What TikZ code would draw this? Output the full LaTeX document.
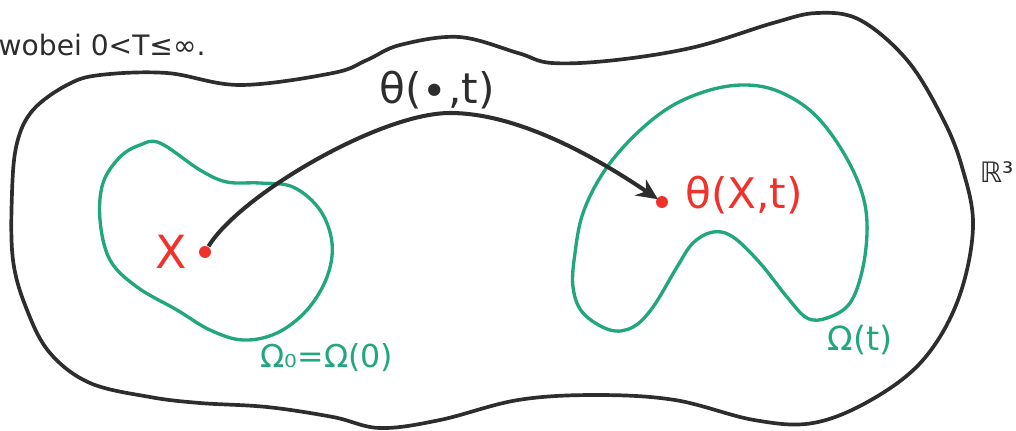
\documentclass[tikz,border=0pt]{standalone}
\usepackage{fontspec}
\setmainfont{DejaVu Sans}
\usepackage{tikz}
\usetikzlibrary{arrows.meta,positioning}

\definecolor{pengreen}{RGB}{34,166,126}
\definecolor{penred}{RGB}{240,50,44}
\definecolor{penblack}{RGB}{45,45,45}

\begin{document}
\begin{tikzpicture}[x=0.01cm, y=-0.01cm, >=Stealth]
        \tikzset{space/.style={draw=penblack, line width=1.05pt, line join=round},
                 region/.style={draw=pengreen, line width=0.95pt},
                 point/.style={circle, fill=penred, inner sep=0pt, minimum size=3.4pt},
                 flow/.style={-{Stealth[length=6pt,width=5.5pt]}, draw=penblack, line width=1.15pt, shorten >=-0.5pt},
                 lbl/.style={inner sep=0pt, font=\fontsize{12}{14}\selectfont}}
        \useasboundingbox (0,0) rectangle (1016,430);
        % the whole space
        \draw[space] plot[smooth cycle, tension=0.6] coordinates {(12,193) (17,143) (33,110) (67,85) (100,75) (167,73) (240,85) (333,73) (367,60) (400,45) (459,37) (518,53) (552,63) (616,60) (695,47) (773,23) (817,13) (860,20) (907,60) (942,117) (962,167) (973,227) (958,300) (923,360) (871,400) (813,423) (754,420) (675,400) (596,395) (518,400) (440,420) (380,428) (333,417) (267,407) (200,403) (150,397) (90,383) (50,353) (27,310) (13,260)};
        % reference body and current body
        \draw[region] plot[smooth cycle, tension=0.6] coordinates {(160,143) (200,170) (227,182) (260,183) (293,187) (320,210) (332,243) (327,277) (307,310) (277,333) (243,340) (210,330) (177,310) (137,287) (110,260) (100,220) (103,183) (120,157) (140,145)};
        \draw[region] plot[smooth cycle, tension=0.6] coordinates {(747,85) (780,92) (813,113) (840,147) (860,187) (867,223) (863,267) (850,303) (827,318) (807,318) (787,297) (760,263) (733,237) (713,232) (693,243) (677,267) (653,307) (633,327) (610,330) (583,313) (573,287) (575,253) (583,213) (603,173) (633,137) (670,107) (710,90)};
        \node[point] (x0) at (205,252) {};
        \node[point] (xt) at (662,202) {};
        \node[lbl, text=penred, font=\fontsize{13}{15}\selectfont, left=3pt of x0] (xlbl) {X};
        \node[lbl, text=penred, right=4.5pt of xt, yshift=2pt] (xtlbl) {θ(X,t)};
        \coordinate (peak) at (450,113);
        \draw[flow] (x0) .. controls (240,195) and (380,113) .. (peak) .. controls (520,113) and (600,160) .. (xt);
        \node[lbl, text=penblack] (flowlbl) at (437,90) {θ(∙,t)};
        \node[lbl, text=pengreen, font=\fontsize{9}{11}\selectfont] (omega0) at (327,358) {Ω₀=Ω(0)};
        \node[lbl, text=pengreen, font=\fontsize{9.5}{11}\selectfont] (omegat) at (860,340) {Ω(t)};
        \node[lbl, text=penblack, font=\fontsize{8}{10}\selectfont, anchor=east] (space) at (1014,172) {ℝ³};
        \node[lbl, text=penblack, font=\fontsize{8}{10}\selectfont, anchor=west] (note) at (-2,45) {wobei 0<T≤∞.};
\end{tikzpicture}
\end{document}
